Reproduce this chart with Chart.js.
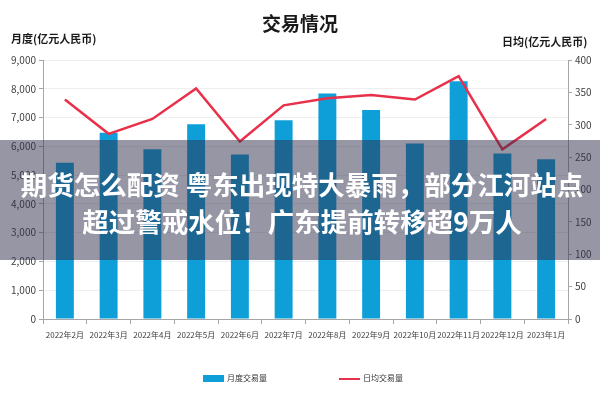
<!DOCTYPE html>
<html>
<head>
<meta charset="utf-8">
<script src="https://cdn.jsdelivr.net/npm/chart.js@4/dist/chart.umd.min.js"></script>
<style>
  body { margin: 0; background: #fff; }
  #wrap { position: relative; width: 600px; height: 400px; font-family: "Noto Sans CJK SC", "Noto Sans", sans-serif; }
  #wrap canvas { position: absolute; left: 0; top: 0; }
  .txt { position: absolute; white-space: nowrap; color: #1a1a1a; font-weight: 700; }
  #title { left: 0; width: 600px; top: 9px; text-align: center; font-size: 19px; }
  #ltitle { left: 11px; top: 30px; font-size: 11px; }
  #rtitle { left: 502px; top: 33px; font-size: 11px; }
  .leg { position: absolute; top: 372px; font-size: 8px; color: #333; font-weight: 400; }
  .leg i { display: inline-block; vertical-align: middle; margin-right: 3px; }
  #band { position: absolute; left: 0; top: 140px; width: 600px; height: 120px; background: rgba(45,45,75,0.5); }
  #band div { position: absolute; left: 0; width: 604px; text-align: center; color: #fff; font-size: 26.5px; font-weight: 700; }
</style>
</head>
<body>
<div id="wrap">
  <canvas id="c" width="600" height="400"></canvas>
  <div class="txt" id="title">交易情况</div>
  <div class="txt" id="ltitle">月度(亿元人民币)</div>
  <div class="txt" id="rtitle">日均(亿元人民币)</div>
  <div class="leg" style="left:203px"><i style="width:21px;height:7px;background:#0f9fd8"></i>月度交易量</div>
  <div class="leg" style="left:339px"><i style="width:21px;height:2px;background:#e8304a"></i>日均交易量</div>
  <div id="band">
    <div style="top:24px">期货怎么配资 粤东出现特大暴雨，部分江河站点</div>
    <div style="top:61px">超过警戒水位！广东提前转移超9万人</div>
  </div>
</div>
<script>
// 月份
const MONTHS = ['2022年2月', '2022年3月', '2022年4月', '2022年5月', '2022年6月', '2022年7月',
  '2022年8月', '2022年9月', '2022年10月', '2022年11月', '2022年12月', '2023年1月'];
// 月度交易量 (亿元)
const MONTHLY = [5430, 6470, 5900, 6770, 5720, 6910, 7840, 7260, 6100, 8260, 5750, 5550];
// 日均交易量 (亿元)
const DAILY = [339, 286, 309, 356, 274, 330, 341, 346, 339, 375, 262, 309];
const LEFT_TICKS = [0, 1000, 2000, 3000, 4000, 5000, 6000, 7000, 8000, 9000];
const RIGHT_TICKS = [0, 50, 100, 150, 200, 250, 300, 350, 400];

const axisGrey = '#a6a6a6';
const tickFont = { family: '"Noto Sans CJK SC", sans-serif', size: 10 };

new Chart(document.getElementById('c'), {
  data: {
    labels: MONTHS,
    datasets: [
      {
        type: 'bar',
        label: '月度交易量',
        data: MONTHLY,
        yAxisID: 'y',
        backgroundColor: '#0f9fd8',
        categoryPercentage: 1,
        barPercentage: 0.41,
        order: 1
      },
      {
        type: 'line',
        label: '日均交易量',
        data: DAILY,
        yAxisID: 'y1',
        borderColor: '#e8304a',
        borderWidth: 2.5,
        pointRadius: 0,
        tension: 0,
        order: 0
      }
    ]
  },
  options: {
    responsive: false,
    animation: false,
    layout: { padding: { top: 60, left: 0, right: 0, bottom: 0 } },
    plugins: { legend: { display: false }, tooltip: { enabled: false } },
    scales: {
      x: {
        offset: true,
        grid: { drawOnChartArea: false, offset: true, tickLength: 5, tickColor: axisGrey },
        border: { color: axisGrey },
        ticks: { color: '#404040', font: { ...tickFont, size: 8 }, maxRotation: 0, autoSkip: false, padding: 6 },
        afterFit: s => { s.height = 81; }
      },
      y: {
        position: 'left',
        min: 0, max: 9000,
        afterBuildTicks: s => { s.ticks = LEFT_TICKS.map(v => ({ value: v })); },
        grid: { color: '#efefef', tickLength: 4, tickColor: axisGrey },
        border: { color: axisGrey },
        ticks: { color: '#404040', font: tickFont, padding: 3, callback: v => v.toLocaleString('en-US') },
        afterFit: s => { s.width = 43; }
      },
      y1: {
        position: 'right',
        min: 0, max: 400,
        afterBuildTicks: s => { s.ticks = RIGHT_TICKS.map(v => ({ value: v })); },
        grid: { drawOnChartArea: false, tickLength: 4, tickColor: axisGrey },
        border: { color: axisGrey },
        ticks: { color: '#404040', font: tickFont, padding: 3 },
        afterFit: s => { s.width = 32; }
      }
    }
  }
});
</script>
</body>
</html>
